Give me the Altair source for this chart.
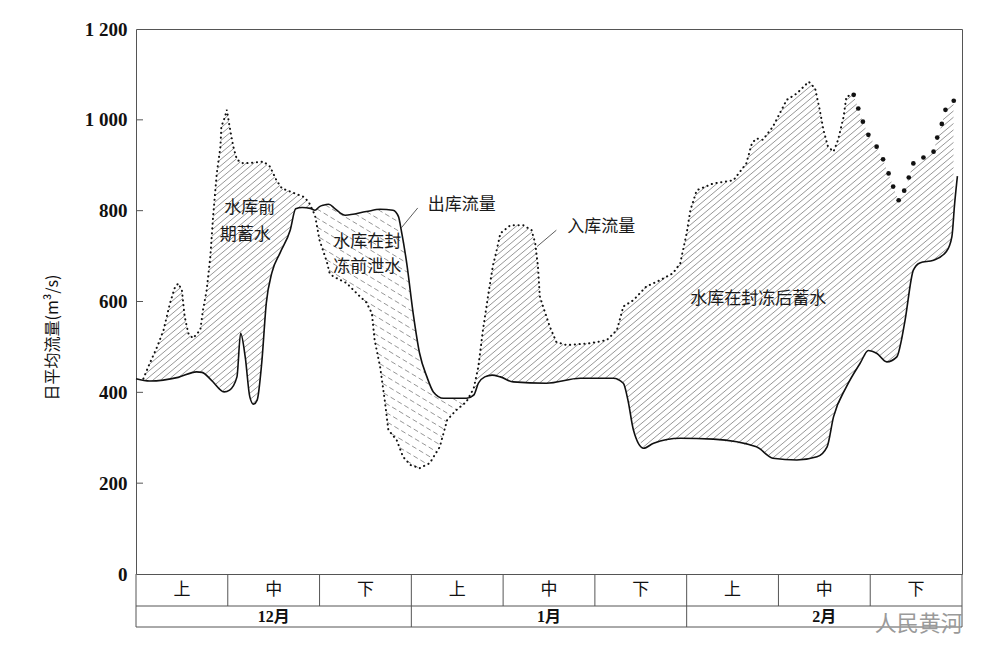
import altair as alt
import pandas as pd
import numpy as np

# ---------------- data ----------------
# x unit: day counted from 12月上旬 start (each 旬 = 10 days), y: m3/s
out_day = [0, 1.5, 4.6, 6.6, 7.2, 8.2, 9.6, 10.2, 11.0, 11.4, 11.9, 12.4, 12.8, 13.2, 13.7,
           14.2, 14.8, 15.7, 16.8, 17.4, 18.1, 19.0, 19.5, 20.0, 20.4, 21.0, 21.7, 22.8, 25.1,
           26.6, 28.0, 28.6, 28.9, 29.5, 30.2, 30.9, 31.7, 32.4, 33.5, 36.0, 36.8, 37.3, 38.0,
           38.8, 39.7, 41.1, 44.7, 48.4, 52.0, 53.1, 53.6, 54.2, 55.3, 56.4, 59.3, 62.9, 67.6,
           69.4, 72.0, 74.2, 75.3, 76.0, 77.4, 78.9, 79.8, 80.7, 81.8, 82.9, 83.4, 83.8, 84.7,
           85.4, 86.9, 88.3, 88.9, 89.2, 89.5]
out_q = [430, 425, 433, 445, 444, 427, 401, 405, 434, 530, 478, 390, 374, 383, 465,
         597, 663, 707, 757, 804, 807, 805, 801, 809, 812, 814, 804, 790, 798,
         803, 801, 787, 757, 684, 574, 486, 434, 401, 387, 387, 394, 420, 434,
         438, 434, 423, 420, 431, 431, 420, 383, 317, 277, 288, 299, 297, 280,
         255, 251, 258, 280, 346, 412, 464, 492, 486, 467, 478, 515, 559, 669,
         685, 691, 710, 743, 816, 876]

in_day = [0.8, 1.5, 2.3, 3.0, 3.7, 4.2, 4.6, 5.0, 5.3, 5.7, 6.2, 7.0, 7.3, 7.7, 8.1,
          8.4, 8.8, 9.2, 9.3, 9.7, 9.9, 10.2, 10.6, 11.0, 11.7, 13.9, 14.6, 15.3, 15.9, 16.8,
          18.2, 18.8, 19.5, 20.0, 20.8, 21.1, 21.5, 23.0, 23.3, 24.4, 25.1, 25.7, 26.0, 26.6,
          27.1, 27.5, 28.4, 29.1, 29.9, 30.9, 32.0, 33.1, 33.9, 34.9, 36.0, 36.8, 37.3, 37.8,
          38.4, 38.9, 39.3, 39.7, 40.8, 42.2, 43.1, 43.5, 43.8, 44.0, 44.6, 45.1, 45.8, 46.9,
          49.5, 51.3, 52.4, 53.1, 54.2, 55.6, 57.1, 58.5, 59.3, 59.6, 60.0, 60.4, 61.1, 62.9,
          65.1, 66.5, 67.1, 67.6, 68.3, 69.4, 70.9, 72.0, 73.3, 74.0, 74.5, 74.9, 75.4, 76.0,
          76.5, 77.1, 77.4, 78.0]
in_q = [430, 464, 500, 537, 596, 629, 640, 625, 567, 530, 519, 537, 581, 625, 699,
        787, 882, 941, 985, 1007, 1022, 985, 941, 912, 904, 908, 897, 867, 849, 842,
        831, 820, 790, 735, 687, 662, 655, 640, 633, 611, 598, 574, 515, 456,
        383, 317, 295, 258, 240, 233, 244, 280, 339, 361, 379, 409, 456, 537,
        618, 680, 713, 750, 768, 768, 757, 728, 677, 611, 574, 544, 511, 504,
        508, 515, 537, 589, 603, 633, 647, 662, 684, 713, 750, 801, 845, 860,
        867, 904, 948, 959, 956, 985, 1044, 1058, 1084, 1069, 1022, 978, 941, 930,
        956, 1007, 1051, 1055]

# late part of inflow drawn with large dots
in2_day = [78.2, 78.7, 79.2, 79.8, 80.7, 81.4, 82.0, 82.5, 83.1, 83.7, 84.2, 84.7, 85.8,
           86.9, 87.3, 87.8, 88.2, 89.1]
in2_q = [1055, 1025, 996, 967, 941, 913, 882, 853, 823, 844, 873, 904, 917,
         930, 961, 991, 1022, 1042]

y_ticks = [0, 200, 400, 600, 800, 1000, 1200]
periods = ["上", "中", "下", "上", "中", "下", "上", "中", "下"]
period_day = [5, 15, 25, 35, 45, 55, 65, 75, 85]
months = ["12月", "1月", "2月"]
month_day = [15, 45, 75]

ann_text = ["水库前", "期蓄水", "水库在封", "冻前泄水", "出库流量", "入库流量", "水库在封冻后蓄水"]
ann_day = [12.4, 11.9, 25.2, 25.2, 35.5, 50.7, 67.8]
ann_q = [806, 746, 731, 676, 812, 764, 605]

lead_day = [30.7, 45.8]
lead_q = [806, 757]
lead_day2 = [28.9, 43.7]
lead_q2 = [762, 721]

# ---------------- geometry ----------------
W, H = 826, 545
XMAX, YMAX = 90, 1200

xsc = alt.Scale(domain=[0, XMAX], nice=False, zero=False)
ysc = alt.Scale(domain=[0, YMAX], nice=False)

# ---------------- hatch segments derived from the two series ----------------
px = np.arange(0, W * out_day[-1] / XMAX, 0.25)
d = px / W * XMAX
all_in_day = in_day + in2_day
all_in_q = in_q + in2_q
qi = np.interp(d, all_in_day, all_in_q)
qo = np.interp(d, out_day, out_q)
valid = (d >= all_in_day[0]) & (d <= min(all_in_day[-1], out_day[-1]))
top = H - np.maximum(qi, qo) / YMAX * H
bot = H - np.minimum(qi, qo) / YMAX * H


def hatch(mask, slope, step, c0, c1):
    rows = []
    for c in np.arange(c0, c1, step):
        ly = c - slope * px
        ins = mask & (ly >= top) & (ly <= bot)
        if not ins.any():
            continue
        e = np.diff(np.concatenate([[0], ins.astype(int), [0]]))
        starts = np.where(e == 1)[0]
        ends = np.where(e == -1)[0] - 1
        for s, t in zip(starts, ends):
            if t - s < 2:
                continue
            rows.append(dict(x=d[s], y=(H - ly[s]) / H * YMAX,
                             x2=d[t], y2=(H - ly[t]) / H * YMAX))
    return pd.DataFrame(rows)


m1 = 0.84
h1 = hatch(valid & (qi > qo), m1, 7.5 * m1, 0, H + m1 * W)
m2 = 0.6
h2 = hatch(valid & (qo > qi), -m2, 9, -m2 * W, H)

# ---------------- layers ----------------
df_out = pd.DataFrame({"day": out_day, "q": out_q})
df_in = pd.DataFrame({"day": in_day, "q": in_q})
df_in2 = pd.DataFrame({"day": in2_day, "q": in2_q})
df_ticks = pd.DataFrame({"q": y_ticks[1:-1]})
df_ann = pd.DataFrame({"day": ann_day, "q": ann_q, "t": ann_text})
df_lead = pd.DataFrame({"x": lead_day, "y": lead_q, "x2": lead_day2, "y2": lead_q2})
df_per = pd.DataFrame({"day": period_day, "t": periods})
df_mon = pd.DataFrame({"day": month_day, "t": months})
df_pdiv = pd.DataFrame({"day": [10, 20, 30, 40, 50, 60, 70, 80]})
df_mdiv = pd.DataFrame({"day": [30, 60]})
df_edge = pd.DataFrame({"day": [0, XMAX]})
df_hline = pd.DataFrame({"a": [0], "b": [XMAX]})

CJK = "Noto Sans CJK SC"
LINE = "#555555"

yaxis = alt.Axis(values=y_ticks, title="日平均流量(m³/s)",
                 labelExpr="replace(format(datum.value, ','), ',', ' ')")

# inward ticks; this layer also carries the y axis
yticks = alt.Chart(df_ticks).mark_rule(color=LINE, strokeWidth=1).encode(
    x=alt.value(0), x2=alt.value(7), y=alt.Y("q:Q", scale=ysc, axis=yaxis))

out_line = alt.Chart(df_out).mark_line(color="#111111", strokeWidth=1.6,
                                        interpolate="monotone").encode(
    x=alt.X("day:Q", scale=xsc, axis=None), y=alt.Y("q:Q", scale=ysc, axis=yaxis))

in_line = alt.Chart(df_in).mark_line(color="#111111", strokeWidth=2.0, strokeCap="round",
                                      strokeDash=[0.2, 4.6]).encode(
    x=alt.X("day:Q", scale=xsc, axis=None), y=alt.Y("q:Q", scale=ysc, axis=yaxis))

in_dots = alt.Chart(df_in2).mark_circle(color="#111111", size=22, opacity=1).encode(
    x=alt.X("day:Q", scale=xsc, axis=None), y=alt.Y("q:Q", scale=ysc, axis=yaxis))

hatch1 = alt.Chart(h1).mark_rule(color="#6a6a6a", strokeWidth=0.7).encode(
    x=alt.X("x:Q", scale=xsc, axis=None), y=alt.Y("y:Q", scale=ysc, axis=yaxis),
    x2="x2:Q", y2="y2:Q")

hatch2 = alt.Chart(h2).mark_rule(color="#6a6a6a", strokeWidth=0.7, strokeDash=[5, 3]).encode(
    x=alt.X("x:Q", scale=xsc, axis=None), y=alt.Y("y:Q", scale=ysc, axis=yaxis),
    x2="x2:Q", y2="y2:Q")

leaders = alt.Chart(df_lead).mark_rule(color="#333333", strokeWidth=0.8).encode(
    x=alt.X("x:Q", scale=xsc, axis=None), y=alt.Y("y:Q", scale=ysc, axis=yaxis),
    x2="x2:Q", y2="y2:Q")

ann = alt.Chart(df_ann).mark_text(font=CJK, fontSize=17, color="#1a1a1a",
                                  baseline="middle").encode(
    x=alt.X("day:Q", scale=xsc, axis=None), y=alt.Y("q:Q", scale=ysc, axis=yaxis), text="t:N")

# table under the plot
edges = alt.Chart(df_edge).mark_rule(color=LINE, strokeWidth=1).encode(
    x=alt.X("day:Q", scale=xsc, axis=None), y=alt.value(H), y2=alt.value(H + 53))
pdiv = alt.Chart(df_pdiv).mark_rule(color=LINE, strokeWidth=1).encode(
    x=alt.X("day:Q", scale=xsc, axis=None), y=alt.value(H), y2=alt.value(H + 32))
mdiv = alt.Chart(df_mdiv).mark_rule(color=LINE, strokeWidth=1).encode(
    x=alt.X("day:Q", scale=xsc, axis=None), y=alt.value(H + 32), y2=alt.value(H + 53))
hl1 = alt.Chart(df_hline).mark_rule(color=LINE, strokeWidth=1).encode(
    x=alt.X("a:Q", scale=xsc, axis=None), x2="b:Q", y=alt.value(H + 32))
hl2 = alt.Chart(df_hline).mark_rule(color=LINE, strokeWidth=1).encode(
    x=alt.X("a:Q", scale=xsc, axis=None), x2="b:Q", y=alt.value(H + 53))

per_txt = alt.Chart(df_per).mark_text(font=CJK, fontSize=17, color="#111111",
                                      baseline="middle").encode(
    x=alt.X("day:Q", scale=xsc, axis=None), y=alt.value(H + 16), text="t:N")
mon_txt = alt.Chart(df_mon).mark_text(font="Liberation Serif, Noto Sans CJK SC", fontSize=16,
                                      fontWeight="bold", color="#111111",
                                      baseline="middle").encode(
    x=alt.X("day:Q", scale=xsc, axis=None), y=alt.value(H + 43), text="t:N")

wm = alt.Chart(pd.DataFrame({"day": [85.3], "t": ["人民黄河"]})).mark_text(
    font=CJK, fontSize=22, color="#9a9a9a", baseline="middle").encode(
    x=alt.X("day:Q", scale=xsc, axis=None), y=alt.value(H + 50), text="t:N")

chart = alt.layer(
    yticks, hatch1, hatch2, out_line, in_line, in_dots, leaders, ann,
    edges, pdiv, mdiv, hl1, hl2, per_txt, mon_txt, wm
).properties(
    width=W, height=H,
    autosize=alt.AutoSizeParams(type="none"),
    padding={"left": 128, "top": 21, "right": 20, "bottom": 72},
    background="white",
).configure_view(
    stroke=LINE, strokeWidth=1
).configure_axisY(
    grid=False, ticks=False, domain=False,
    labelFont="Liberation Serif", labelFontSize=19, labelFontWeight="bold",
    labelColor="#111111", labelPadding=9,
    titleFont=CJK, titleFontSize=16, titleFontWeight="normal", titleColor="#111111",
    titleAngle=270, titleX=-84, titleY=308, titleAlign="center", titleBaseline="middle",
)

chart.save("out.html", embed_options={"renderer": "svg", "actions": False})
